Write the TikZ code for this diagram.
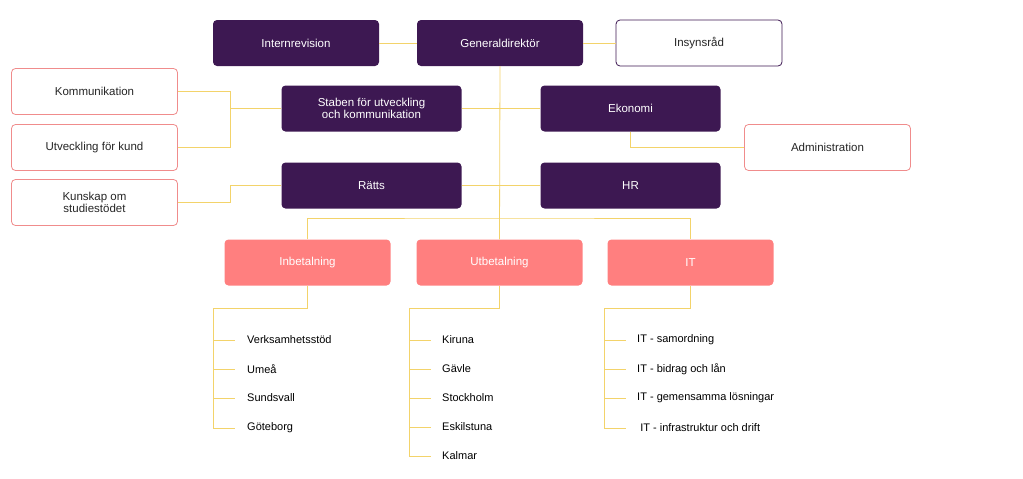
\documentclass[tikz,border=0pt]{standalone}
\usepackage{fontspec}
\setmainfont{Liberation Sans}
\definecolor{purp}{HTML}{3D1852}
\definecolor{salm}{HTML}{FF7F7F}
\definecolor{pinkb}{HTML}{F08C8C}
\definecolor{gold}{HTML}{F3D36A}
\begin{document}
\begin{tikzpicture}[x=1pt,y=-1pt,
 box/.style={rounded corners=4pt,minimum width=166pt,minimum height=46pt,inner sep=1pt,align=center,font=\fontsize{11.5}{12.5}\selectfont},
 dark/.style={box,fill=purp,text=white},
 wide/.style={minimum width=180pt},
 outl/.style={box,draw=pinkb,fill=white,text=black!85,line width=0.8pt},
 outp/.style={box,draw=purp,fill=white,text=black!85,line width=0.8pt},
 sal/.style={box,fill=salm,text=white},
 ln/.style={draw=gold,line width=0.8pt},
 itm/.style={anchor=west,inner sep=0pt,font=\fontsize{11}{12}\selectfont,text=black}]
\useasboundingbox (0,0) rectangle (1023,479);
\node[dark] (int) at (296,43) {Internrevision};
\node[dark] (gd) at (500,43) {Generaldirektör};
\node[outp] (ins) at (699,43) {Insynsråd};
\node[outl] (kom) at (94.5,91.5) {Kommunikation};
\node[outl] (utv) at (94.5,147.5) {Utveckling för kund};
\node[outl] (kun) at (94.5,202.5) {Kunskap om\\studiestödet};
\node[dark,wide] (stab) at (371.5,108.5) {Staben för utveckling\\och kommunikation};
\node[dark,wide] (eko) at (630.5,108.5) {Ekonomi};
\node[outl] (adm) at (827.5,147.5) {Administration};
\node[dark,wide] (ratt) at (371.5,185.5) {Rätts};
\node[dark,wide] (hr) at (630.5,185.5) {HR};
\node[sal] (inb) at (307.5,262.5) {Inbetalning};
\node[sal] (utb) at (499.5,262.5) {Utbetalning};
\node[sal] (it) at (690.5,262.5) {IT};
\begin{scope}[on background layer/.try]
\end{scope}
\coordinate (j1) at (230,108.5);
\draw[ln] (int) -- (gd); \draw[ln] (gd) -- (ins);
\draw[ln] (stab) -- (eko); \draw[ln] (ratt) -- (hr);
\draw[ln] (stab.west) -- (j1) |- (kom.east); \draw[ln] (j1) |- (utv.east);
\draw[ln] (ratt.west) -| (230,202.5) -- (kun.east);
\draw[ln] (eko.south) |- (adm.west);
\coordinate (t) at (500,218);
\draw[ln] (gd.south) -- (utb.north);
\draw[ln] (inb.north) |- (t) -| (it.north);
% lists
\foreach \n/\src/\vx/\tx/\last/\items in {
 a/inb/213/247/428/{340/Verksamhetsstöd,369/Umeå,398/Sundsvall,428/Göteborg},
 b/utb/409/442/456/{340/Kiruna,369/Gävle/Sundsvall,398/Stockholm/Visby,427/Eskilstuna/Linköping,456/Kalmar/Lund},
 c/it/604/637/428/{340/IT - samordning,369/IT - bidrag och lån,398/IT - gemensamma lösningar,428/\ IT - infrastruktur och drift}}{
 \draw[ln] (\src.south) -- ++(0,23) -| (\vx,\last);
 \foreach \yy/\tt in \items {
   \draw[ln] (\vx,\yy) -- ++(22,0);
   \node[itm] (\n\yy) at (\tx,\yy) {\tt};
 }
}
\end{tikzpicture}
\end{document}
